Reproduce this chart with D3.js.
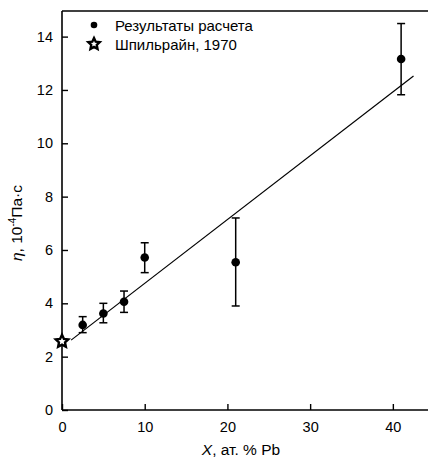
<!DOCTYPE html>
<html><head><meta charset="utf-8">
<script src="https://cdn.jsdelivr.net/npm/d3@7"></script>
<style>body{margin:0;background:#fff}svg{display:block}text{font-family:"Liberation Sans",Arial,sans-serif;fill:#000}</style>
</head><body>
<script>
const calcX = [2.5, 5, 7.5, 10, 21, 41];
const calcY = [3.19, 3.62, 4.06, 5.72, 5.54, 13.16];
const errLow = [2.9, 3.27, 3.66, 5.15, 3.9, 11.82];
const errHigh = [3.5, 4.0, 4.46, 6.27, 7.2, 14.49];
const refX = [0];
const refY = [2.6];
const fitX = [1.1, 42.5];
const fitY = [2.62, 12.52];
const xTicks = [0, 10, 20, 30, 40];
const yTicks = [0, 2, 4, 6, 8, 10, 12, 14];
const legendLabels = ["Результаты расчета", "Шпильрайн, 1970"];

const W = 428, H = 462;
const m = {l: 62, r: 0, t: 11, b: 52};
const svg = d3.select("body").append("svg").attr("width", W).attr("height", H);
const x = d3.scaleLinear().domain([0, 44.25]).range([m.l, W - m.r]);
const y = d3.scaleLinear().domain([0, 14.96]).range([H - m.b, m.t]);

function starPath(R, r) {
  const p = [];
  for (let k = 0; k < 10; k++) {
    const a = -Math.PI / 2 + k * Math.PI / 5;
    const rad = k % 2 ? r : R;
    p.push([rad * Math.cos(a), rad * Math.sin(a)]);
  }
  return "M" + p.map(q => q[0].toFixed(2) + "," + q[1].toFixed(2)).join("L") + "Z";
}

// frame
const xAx = svg.append("g").attr("transform", `translate(0,${H - m.b})`)
  .call(d3.axisBottom(x).tickValues(xTicks).tickSize(-6).tickPadding(12).tickFormat(d3.format("d")));
const yAx = svg.append("g").attr("transform", `translate(${m.l},0)`)
  .call(d3.axisLeft(y).tickValues(yTicks).tickSize(-6).tickPadding(9).tickFormat(d3.format("d")));
[xAx, yAx].forEach(g => {
  g.select(".domain").attr("stroke-width", 1.6);
  g.selectAll(".tick line").attr("stroke-width", 1.4);
  g.selectAll(".tick text").style("font-size", "14.5px").attr("font-family", "Liberation Sans, Arial, sans-serif");
});
xAx.select(".domain").attr("d", `M${m.l},0H${W}`);
yAx.select(".domain").attr("d", `M0,${H - m.b}V${m.t}`);
svg.append("line").attr("x1", m.l).attr("x2", W).attr("y1", m.t).attr("y2", m.t)
  .attr("stroke", "#000").attr("stroke-width", 1.6);

// fit line
svg.append("path").datum(fitX.map((d, i) => [d, fitY[i]]))
  .attr("d", d3.line().x(d => x(d[0])).y(d => y(d[1])))
  .attr("fill", "none").attr("stroke", "#000").attr("stroke-width", 1.2);

// error bars
const eb = svg.append("g").attr("stroke", "#000").attr("stroke-width", 1.5);
calcX.forEach((xv, i) => {
  eb.append("line").attr("x1", x(xv)).attr("x2", x(xv)).attr("y1", y(errLow[i])).attr("y2", y(errHigh[i]));
  [errLow[i], errHigh[i]].forEach(v => eb.append("line")
    .attr("x1", x(xv) - 4).attr("x2", x(xv) + 4).attr("y1", y(v)).attr("y2", y(v)));
});
svg.append("g").selectAll("circle").data(calcX).join("circle")
  .attr("cx", d => x(d)).attr("cy", (d, i) => y(calcY[i])).attr("r", 4.3).attr("fill", "#000");

svg.append("g").selectAll("path").data(refX).join("path")
  .attr("transform", (d, i) => `translate(${x(d)},${y(refY[i]) + 0.8})`)
  .attr("d", starPath(6.6, 3.2)).attr("fill", "#fff").attr("stroke", "#000")
  .attr("stroke-width", 2.4).attr("stroke-linejoin", "miter");

// legend
const lg = svg.append("g");
lg.append("circle").attr("cx", 94).attr("cy", 25).attr("r", 3.3).attr("fill", "#000");
lg.append("path").attr("transform", "translate(94,44)").attr("d", starPath(6, 2.9))
  .attr("fill", "#fff").attr("stroke", "#000").attr("stroke-width", 2.4);
legendLabels.forEach((t, i) => lg.append("text").attr("x", 115).attr("y", 30.5 + i * 19)
  .style("font-size", "15px").text(t));

// axis labels
const xl = svg.append("text").attr("x", 241).attr("y", 455).attr("text-anchor", "middle").style("font-size", "15.5px");
xl.append("tspan").attr("font-style", "italic").text("X");
xl.append("tspan").text(", ат. % Pb");
const yl = svg.append("text").attr("transform", "translate(22,223) rotate(-90)").attr("text-anchor", "middle").style("font-size", "15.5px");
yl.append("tspan").attr("font-style", "italic").text("η");
yl.append("tspan").text(", 10");
yl.append("tspan").attr("dy", -6).style("font-size", "10px").text("-4");
yl.append("tspan").attr("dy", 6).text("Па·с");
</script>
</body></html>
